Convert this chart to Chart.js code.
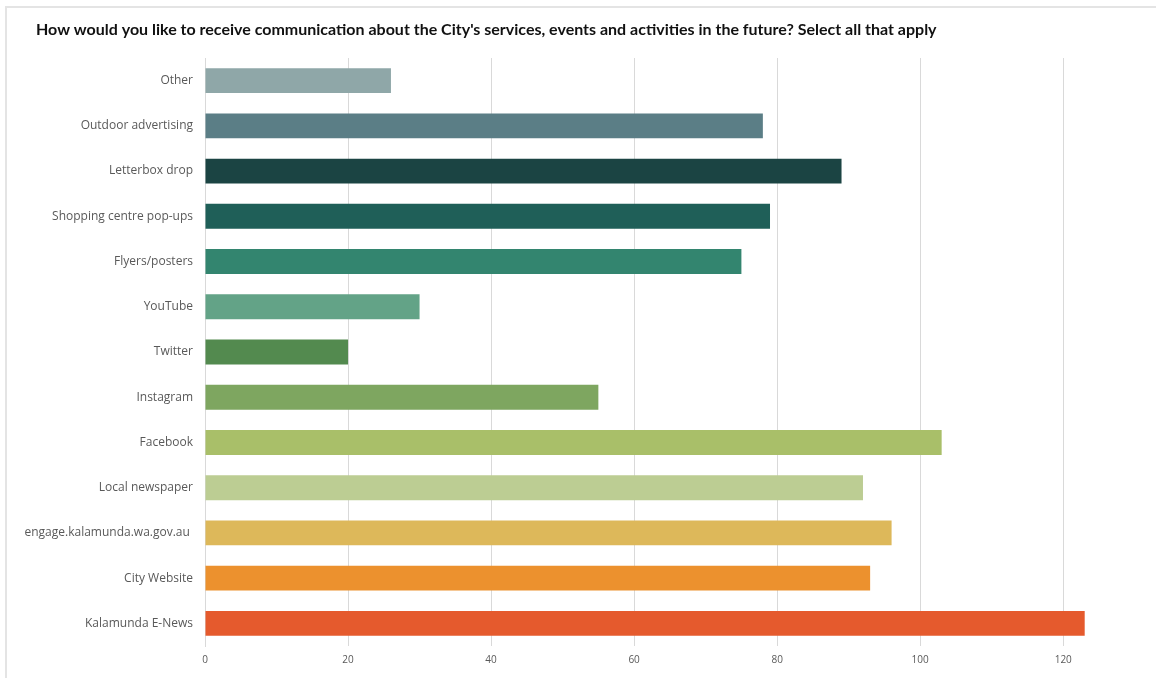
<!DOCTYPE html>
<html>
<head>
<meta charset="utf-8">
<script src="https://cdn.jsdelivr.net/npm/chart.js@4"></script>
<style>
  body { margin: 0; background: #fff; }
  #wrap { position: relative; width: 1156px; height: 678px; }
  #frame { position: absolute; left: 5px; top: 6px; right: -10px; bottom: -10px;
           border-left: 2px solid #e4e4e4; border-top: 2px solid #e4e4e4; }
  canvas { position: absolute; left: 0; top: 0; }
</style>
</head>
<body>
<div id="wrap">
  <div id="frame"></div>
  <canvas id="canvas" width="1156" height="678"></canvas>
</div>
<script>
// survey answers, top to bottom
const channels = ['Other', 'Outdoor advertising', 'Letterbox drop', 'Shopping centre pop-ups',
  'Flyers/posters', 'YouTube', 'Twitter', 'Instagram', 'Facebook', 'Local newspaper',
  'engage.kalamunda.wa.gov.au ', 'City Website', 'Kalamunda E-News'];
const responses = [26, 78, 89, 79, 75, 30, 20, 55, 103, 92, 96, 93, 123];
const barColours = ['#8fa7a8', '#5b7e86', '#1b4443', '#1f5f58', '#33856f', '#63a387',
  '#538a4f', '#7ea660', '#a9bf69', '#bccd93', '#ddb85a', '#ec912e', '#e55a2d'];
const xTicks = [0, 20, 40, 60, 80, 100, 120];

const chartTitle = "How would you like to receive communication about the City's services, events and activities in the future? Select all that apply";

// title drawn by hand so it can sit left of the axis labels
const titlePlugin = {
    id: 'leftTitle',
    afterDraw: function(chart) {
        const c = chart.ctx;
        c.save();
        c.font = 'bold 16px Lato';
        c.fillStyle = '#111';
        c.textBaseline = 'middle';
        c.textAlign = 'left';
        c.fillText(chartTitle, 36, 30);
        c.restore();
    }
};

const ctx = document.getElementById('canvas').getContext('2d');
const myChart = new Chart(ctx, {
    type: 'bar',
    data: {
        labels: channels,
        datasets: [{
            data: responses,
            backgroundColor: barColours,
            categoryPercentage: 1,
            barPercentage: 0.55
        }]
    },
    options: {
        indexAxis: 'y',
        responsive: false,
        animation: false,
        layout: { padding: { left: 10, right: 57, top: 58, bottom: 4 } },
        plugins: {
            legend: { display: false },
            tooltip: { enabled: false }
        },
        scales: {
            x: {
                min: 0,
                max: 125,
                afterBuildTicks: function(scale) {
                    scale.ticks = xTicks.map(function(v) { return { value: v }; });
                },
                grid: { color: '#d9d9d9', drawTicks: false },
                border: { display: false },
                ticks: {
                    color: '#595959',
                    padding: 8,
                    font: { family: 'Open Sans', size: 10 }
                }
            },
            y: {
                grid: { display: false, drawTicks: false },
                border: { color: '#d9d9d9' },
                afterFit: function(scale) { scale.width = 195; },
                ticks: {
                    color: '#595959',
                    padding: 12,
                    font: { family: 'Open Sans', size: 12 }
                }
            }
        }
    },
    plugins: [titlePlugin]
});
</script>
</body>
</html>
